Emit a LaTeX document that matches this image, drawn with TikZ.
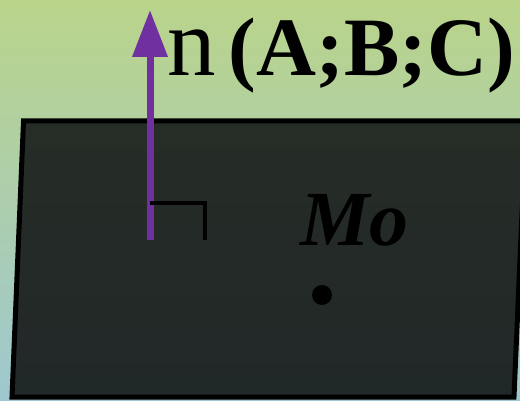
\documentclass[tikz,border=0pt]{standalone}
\usepackage{fontspec}
\setmainfont{Liberation Serif}
\usetikzlibrary{arrows.meta,positioning}
\definecolor{skyTop}{RGB}{186,212,138}
\definecolor{skyMid}{RGB}{170,202,160}
\definecolor{skyBot}{RGB}{158,200,208}
\definecolor{planeTop}{RGB}{38,44,38}
\definecolor{planeBot}{RGB}{33,40,40}
\definecolor{normalPurple}{RGB}{112,48,160}

\begin{document}
\begin{tikzpicture}[
  x=1pt, y=-1pt,
  plane/.style={draw=black, line width=5pt, line join=miter, top color=planeTop, bottom color=planeBot},
  normalvec/.style={normalPurple, line width=7pt, -{Triangle[length=47pt,width=34pt]}},
  rightangle/.style={draw=black, line width=4pt},
  bigtext/.style={font=\fontsize{78}{80}\selectfont, inner sep=0pt, anchor=base west}
]
  \useasboundingbox (0,0) rectangle (520,401);

  % Background
  \shade[top color=skyTop, middle color=skyMid, bottom color=skyBot] (0,0) rectangle (520,401);

  % Plane
  \path[plane] (23.5,121) -- (526,121) -- (514,397) -- (12,397) -- cycle;

  % Normal vector
  \coordinate (foot) at (150,240);
  \coordinate (tip) at (150,10);
  \draw[normalvec] (foot) -- (tip);
  \node[bigtext] (nlabel) at (167,76)
    {{\fontsize{97}{100}\selectfont n}\hspace{0.17em}{\fontsize{83}{84}\selectfont\textbf{(A;B;C)}}};

  % Right angle mark
  \coordinate (ra1) at (150,203);
  \coordinate (ra2) at (205,203);
  \coordinate (ra3) at (205,240);
  \draw[rightangle] (ra1) -- (ra2) -- (ra3);

  % Point Mo
  \node[bigtext] (mlabel) at (300,245) {\textbf{\textit{Mo}}};
  \fill[black] (322,295) circle[radius=10pt] coordinate (mo);

\end{tikzpicture}
\end{document}
